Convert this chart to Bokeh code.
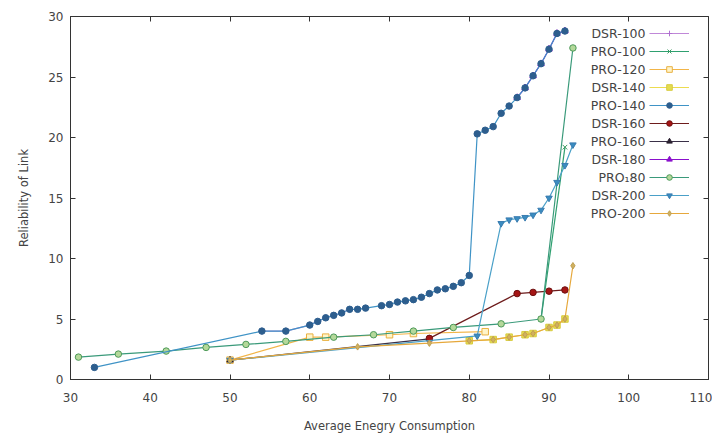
from bokeh.plotting import figure
from bokeh.models import Range1d, LinearAxis, Legend, LegendItem, FixedTicker, CustomJSTickFormatter, Label
from bokeh.embed import file_html
from bokeh.resources import INLINE

# ---- data ----
x_ticks = [30, 40, 50, 60, 70, 80, 90, 100, 110]
y_ticks = [0, 5, 10, 15, 20, 25, 30]

# some series lie hidden under others in the reference (same values as the visible ones)
dsr100_x = [54, 57, 60, 61, 62, 63, 64, 65]
dsr100_y = [4.0, 4.0, 4.5, 4.8, 5.1, 5.3, 5.5, 5.8]
pro100_x = [89, 92]
pro100_y = [5.0, 19.2]
pro120_x = [50, 60, 62, 70, 73, 82]
pro120_y = [1.6, 3.5, 3.5, 3.7, 3.8, 3.95]
dsr140_x = [80, 83, 85, 87, 88, 90, 91, 92]
dsr140_y = [3.2, 3.3, 3.5, 3.7, 3.8, 4.3, 4.5, 5.0]
pro140_x = [33, 54, 57, 60, 61, 62, 63, 64, 65, 66, 67, 69, 70, 71, 72, 73, 74, 75, 76, 77, 78, 79, 80,
            81, 82, 83, 84, 85, 86, 87, 88, 89, 90, 91, 92]
pro140_y = [1.0, 4.0, 4.0, 4.5, 4.8, 5.1, 5.3, 5.5, 5.8, 5.8, 5.9, 6.1, 6.2, 6.4, 6.5, 6.6, 6.8, 7.1, 7.4, 7.5, 7.7, 8.0, 8.6,
            20.3, 20.6, 20.9, 22.0, 22.6, 23.3, 24.1, 25.1, 26.1, 27.3, 28.6, 28.8]
dsr160_x = [75, 86, 88, 90, 92]
dsr160_y = [3.4, 7.1, 7.2, 7.3, 7.4]
pro160_x = [50, 75]
pro160_y = [1.6, 3.35]
dsr180_x = [86, 87, 88, 89, 90, 91, 92]
dsr180_y = [23.3, 24.1, 25.1, 26.1, 27.3, 28.6, 28.8]
pro180_x = [31, 36, 42, 47, 52, 57, 63, 68, 73, 78, 84, 89, 93]
pro180_y = [1.85, 2.1, 2.35, 2.65, 2.9, 3.15, 3.5, 3.7, 4.0, 4.3, 4.6, 5.0, 27.4]
dsr200_x = [50, 81, 84, 85, 86, 87, 88, 89, 90, 91, 92, 93]
dsr200_y = [1.6, 3.6, 12.9, 13.2, 13.3, 13.4, 13.6, 14.0, 15.0, 16.3, 17.7, 19.4]
pro200_x = [50, 66, 75, 80, 83, 85, 87, 88, 90, 91, 92, 93]
pro200_y = [1.6, 2.7, 3.0, 3.2, 3.3, 3.5, 3.7, 3.8, 4.3, 4.5, 5.0, 9.4]

FONT = "DejaVu Sans"

p = figure(width=712, height=435, output_backend="svg", toolbar_location=None,
           x_range=Range1d(30, 110), y_range=Range1d(0, 30),
           min_border_left=70, min_border_right=4, min_border_top=16, min_border_bottom=50)
p.xgrid.visible = False
p.ygrid.visible = False
p.outline_line_color = "#333333"
p.outline_line_width = 1
p.background_fill_color = "white"
p.border_fill_color = "white"

for ax in (p.xaxis[0], p.yaxis[0]):
    ax.major_tick_in = 5
    ax.major_tick_out = 0
    ax.minor_tick_line_color = None
    ax.axis_line_color = "#333333"
    ax.major_tick_line_color = "#333333"
    ax.major_label_text_font = FONT
    ax.major_label_text_font_size = "12px"
    ax.major_label_text_color = "#444444"
    ax.axis_label_text_font = FONT
    ax.axis_label_text_font_size = "11.5px"
    ax.axis_label_text_font_style = "normal"
    ax.axis_label_text_color = "#444444"

p.xaxis[0].ticker = FixedTicker(ticks=x_ticks)
p.yaxis[0].ticker = FixedTicker(ticks=y_ticks)
p.xaxis[0].axis_label = "Average Enegry Consumption"
p.yaxis[0].axis_label = "Reliability of Link"
p.xaxis[0].major_label_standoff = 13
p.xaxis[0].axis_label_standoff = 14
p.yaxis[0].major_label_standoff = 7
p.yaxis[0].axis_label_standoff = 14

# mirrored tick marks on top and right (no labels)
blank = CustomJSTickFormatter(code="return ''")
top = LinearAxis(ticker=FixedTicker(ticks=x_ticks), major_tick_in=5, major_tick_out=0,
                 minor_tick_line_color=None, formatter=blank, major_label_standoff=0,
                 axis_line_color=None, major_tick_line_color="#333333")
right = LinearAxis(ticker=FixedTicker(ticks=y_ticks), major_tick_in=5, major_tick_out=0,
                   minor_tick_line_color=None, formatter=blank, major_label_standoff=0,
                   axis_line_color=None, major_tick_line_color="#333333")
p.add_layout(top, "above")
p.add_layout(right, "right")

series = [
    ("DSR-100", dsr100_x, dsr100_y, "#c088d8", "cross", "#c088d8", "#b070d0"),
    ("PRO-100", pro100_x, pro100_y, "#2fa070", "x", "#3c9a60", "#3c9a60"),
    ("PRO-120", pro120_x, pro120_y, "#f2b548", "square", "#fff4c8", "#e8b040"),
    ("DSR-140", dsr140_x, dsr140_y, "#ecdc50", "square", "#e4dc50", "#d8cc40"),
    ("PRO-140", pro140_x, pro140_y, "#3f93c6", "circle", "#2d5e8e", "#2d5e8e"),
    ("DSR-160", dsr160_x, dsr160_y, "#6e1c1c", "circle", "#a51515", "#6e1010"),
    ("PRO-160", pro160_x, pro160_y, "#3a3048", "triangle", "#2a2030", "#2a2030"),
    ("DSR-180", dsr180_x, dsr180_y, "#8a10cc", "triangle", "#8a10cc", "#8a10cc"),
    ("PRO\u208180", pro180_x, pro180_y, "#3a9a7a", "circle", "#b4d89a", "#4d9a5a"),
    ("DSR-200", dsr200_x, dsr200_y, "#4aa0c8", "inverted_triangle", "#3a8cc0", "#3a7cb0"),
    ("PRO-200", pro200_x, pro200_y, "#e6a83c", "diamond", "#d0b060", "#c0a050"),
]

# draw order: the series hidden in the reference go underneath
draw_order = ["DSR-100", "DSR-180", "DSR-140", "PRO-120", "PRO-160", "DSR-160", "PRO-100",
              "PRO\u208180", "DSR-200", "PRO-200", "PRO-140"]
renderers = {}
for name in draw_order:
    _, xs, ys, lc, mk, fc, ec = next(s for s in series if s[0] == name)
    lr = p.line(xs, ys, line_color=lc, line_width=1.2)
    sr = p.scatter(xs, ys, marker=mk, size=6.5, fill_color=fc, line_color=ec, line_width=1)
    renderers[name] = [lr, sr]

# gnuplot-style key: right-aligned label, then the line sample on its right
items = [LegendItem(label="", renderers=renderers[s[0]]) for s in series]
legend = Legend(items=items, location=(579, 159), orientation="vertical",
                background_fill_alpha=0, border_line_color=None,
                label_text_font_size="1px", label_width=0, label_height=14,
                glyph_width=40, glyph_height=14, spacing=4,
                padding=4, label_standoff=0, margin=0)
p.add_layout(legend, "center")

for i, s in enumerate(series):
    p.add_layout(Label(x=575, y=346 - 18 * i, x_units="screen", y_units="screen",
                       text=s[0], text_align="right", text_baseline="middle",
                       text_font=FONT, text_font_size="12.5px", text_color="#444444"))

open("out.html", "w").write(file_html(p, INLINE))
